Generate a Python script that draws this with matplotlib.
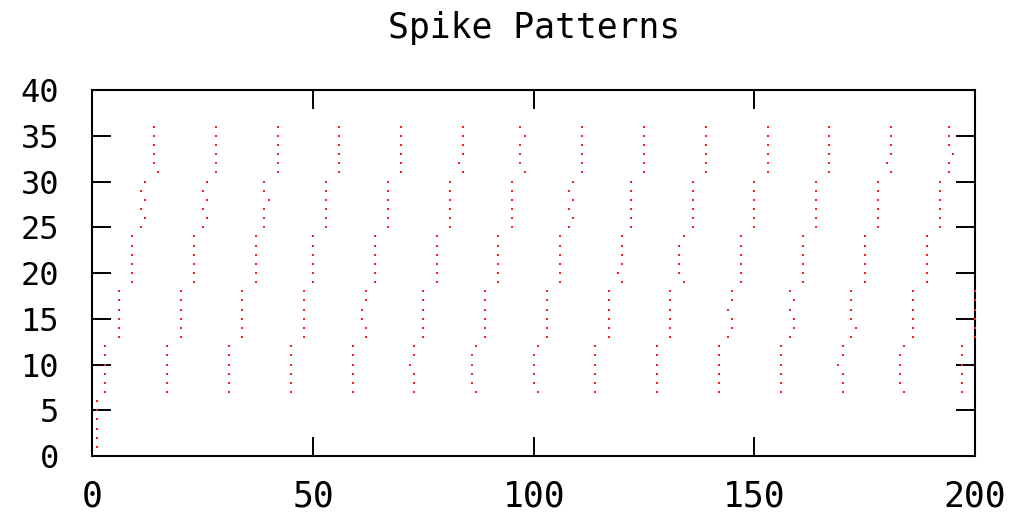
import matplotlib
matplotlib.use("Agg")
import matplotlib.pyplot as plt

title = "Spike Patterns"
x_ticks = [0, 50, 100, 150, 200]
y_ticks = [0, 5, 10, 15, 20, 25, 30, 35, 40]

# spike times for each neuron index (1..36)
n01 = [1]
n02 = [1]
n03 = [1]
n04 = [1]
n05 = [1]
n06 = [1]
n07 = [3, 17, 31, 45, 59, 73, 87, 101, 114, 128, 142, 156, 170, 184, 197]
n08 = [3, 17, 31, 45, 59, 73, 86, 100, 114, 128, 142, 156, 170, 183, 197]
n09 = [3, 17, 31, 45, 59, 73, 86, 100, 114, 128, 142, 156, 170, 183, 197]
n10 = [3, 17, 31, 45, 59, 72, 86, 100, 114, 128, 142, 156, 169, 183, 197]
n11 = [3, 17, 31, 45, 59, 73, 86, 100, 114, 128, 142, 156, 170, 183, 197]
n12 = [3, 17, 31, 45, 59, 73, 87, 101, 114, 128, 142, 156, 170, 184, 197]
n13 = [6, 20, 34, 48, 62, 75, 89, 103, 117, 131, 144, 158, 172, 186, 200]
n14 = [6, 20, 34, 48, 62, 75, 89, 103, 117, 131, 145, 159, 173, 186, 200]
n15 = [6, 20, 34, 48, 61, 75, 89, 103, 117, 131, 145, 159, 172, 186, 200]
n16 = [6, 20, 34, 48, 61, 75, 89, 103, 117, 131, 144, 158, 172, 186, 200]
n17 = [6, 20, 34, 48, 62, 75, 89, 103, 117, 131, 145, 159, 172, 186, 200]
n18 = [6, 20, 34, 48, 62, 75, 89, 103, 117, 131, 145, 158, 172, 186, 200]
n19 = [9, 23, 37, 50, 64, 78, 92, 106, 120, 134, 147, 161, 175, 189]
n20 = [9, 23, 37, 50, 64, 78, 92, 106, 119, 133, 147, 161, 175, 189]
n21 = [9, 23, 37, 50, 64, 78, 92, 106, 120, 133, 147, 161, 175, 189]
n22 = [9, 23, 37, 50, 64, 78, 92, 106, 120, 133, 147, 161, 175, 189]
n23 = [9, 23, 37, 50, 64, 78, 92, 106, 120, 133, 147, 161, 175, 189]
n24 = [9, 23, 37, 50, 64, 78, 92, 106, 120, 134, 147, 161, 175, 189]
n25 = [11, 25, 39, 53, 67, 81, 95, 108, 122, 136, 150, 164, 178, 192]
n26 = [12, 26, 39, 53, 67, 81, 95, 109, 122, 136, 150, 164, 178, 192]
n27 = [11, 25, 39, 53, 67, 81, 95, 108, 122, 136, 150, 164, 178, 192]
n28 = [12, 26, 40, 53, 67, 81, 95, 109, 122, 136, 150, 164, 178, 192]
n29 = [11, 25, 39, 53, 67, 81, 95, 108, 122, 136, 150, 164, 178, 192]
n30 = [12, 26, 39, 53, 67, 81, 95, 109, 122, 136, 150, 164, 178, 192]
n31 = [15, 28, 42, 56, 70, 84, 98, 111, 125, 139, 153, 167, 181, 194]
n32 = [14, 28, 42, 56, 70, 83, 97, 111, 125, 139, 153, 167, 180, 194]
n33 = [14, 28, 42, 56, 70, 84, 97, 111, 125, 139, 153, 167, 181, 195]
n34 = [14, 28, 42, 56, 70, 84, 97, 111, 125, 139, 153, 167, 181, 194]
n35 = [14, 28, 42, 56, 70, 84, 98, 111, 125, 139, 153, 167, 181, 194]
n36 = [14, 28, 42, 56, 70, 84, 97, 111, 125, 139, 153, 167, 181, 194]

neurons = [n01, n02, n03, n04, n05, n06, n07, n08, n09, n10, n11, n12,
           n13, n14, n15, n16, n17, n18, n19, n20, n21, n22, n23, n24,
           n25, n26, n27, n28, n29, n30, n31, n32, n33, n34, n35, n36]

xs, ys = [], []
for idx, times in enumerate(neurons, start=1):
    for t in times:
        xs.append(t)
        ys.append(idx)

fig = plt.figure(figsize=(10.16, 5.14), dpi=100)
ax = fig.add_axes([0.0908, 0.1128, 0.8689, 0.7121])

ax.plot(xs, ys, linestyle="none", marker="s", markersize=1.7,
        markeredgewidth=0, color="#ff2020", clip_on=False, zorder=3)

ax.set_xlim(0, 200)
ax.set_ylim(0, 40)
ax.set_xticks(x_ticks)
ax.set_yticks(y_ticks)
font = "DejaVu Sans Mono"
ax.set_xticklabels([str(v) for v in x_ticks], fontsize=25, family=font)
ax.set_yticklabels([str(v) for v in y_ticks], fontsize=23, family=font)
ax.tick_params(direction="in", length=14, width=1.4, top=True, right=True,
               colors="black")
ax.tick_params(axis="y", pad=24)
ax.tick_params(axis="x", pad=17)
for s in ax.spines.values():
    s.set_linewidth(1.5)
    s.set_color("black")

fig.text(0.5256, 0.945, title, ha="center", va="center", fontsize=25, family=font)

fig.savefig("out.png", dpi=100)
